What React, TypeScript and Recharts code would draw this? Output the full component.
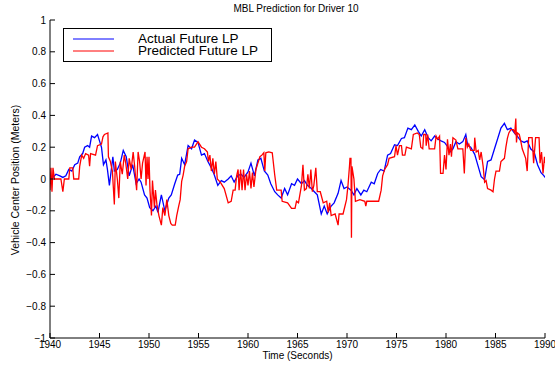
import React from 'react';
import { LineChart, Line, XAxis, YAxis, Legend } from 'recharts';

const actualTime = [
  1940.0, 1940.3, 1940.6, 1941.0, 1941.3, 1941.6, 1941.9, 1942.2, 1942.5, 1942.8,
  1943.0, 1943.3, 1943.5, 1943.8, 1944.0, 1944.2, 1944.5, 1944.8, 1945.0, 1945.2,
  1945.4, 1945.65, 1945.8, 1946.0, 1946.35, 1946.5, 1946.8, 1947.1, 1947.4, 1947.7,
  1948.0, 1948.35, 1948.7, 1949.0, 1949.2, 1949.55, 1949.8, 1950.07, 1950.4, 1950.7,
  1950.9, 1951.25, 1951.6, 1952.0, 1952.25, 1952.6, 1952.9, 1953.1, 1953.3, 1953.6,
  1953.95, 1954.3, 1954.6, 1954.95, 1955.3, 1955.6, 1955.95, 1956.3, 1956.6, 1956.95,
  1957.3, 1957.6, 1958.0, 1958.3, 1958.6, 1958.95, 1959.3, 1959.6, 1960.0, 1960.3,
  1960.65, 1961.0, 1961.3, 1961.65, 1962.0, 1962.3, 1962.7, 1963.0, 1963.35, 1963.7,
  1964.0, 1964.4, 1964.7, 1965.0, 1965.4, 1965.7, 1966.0, 1966.4, 1966.7, 1967.0,
  1967.4, 1967.7, 1968.0, 1968.4, 1968.7, 1969.1, 1969.4, 1969.7, 1970.0, 1970.4,
  1970.7, 1971.0, 1971.4, 1971.7, 1972.0, 1972.45, 1972.75, 1973.1, 1973.4, 1973.75,
  1974.1, 1974.4, 1974.8, 1975.1, 1975.5, 1975.8, 1976.15, 1976.5, 1976.85, 1977.2,
  1977.5, 1977.85, 1978.2, 1978.5, 1978.85, 1979.2, 1979.5, 1979.85, 1980.2, 1980.4,
  1980.7, 1981.0, 1981.35, 1981.7, 1982.0, 1982.2, 1982.5, 1982.9, 1983.2, 1983.55,
  1983.9, 1984.2, 1984.55, 1984.9, 1985.2, 1985.55, 1985.9, 1986.2, 1986.55, 1986.9,
  1987.2, 1987.55, 1987.9, 1988.2, 1988.55, 1988.9, 1989.25, 1989.6, 1989.9, 1990.0,
];
const actualLP = [
  0.02, 0.01, 0.03, 0.02, 0.01, 0.02, 0.06, 0.05, 0.09, 0.1,
  0.14, 0.16, 0.2, 0.21, 0.2, 0.27, 0.26, 0.28, 0.24, 0.2,
  0.09, 0.12, 0.06, -0.04, 0.14, 0.05, 0.06, 0.1, 0.18, 0.14,
  0.02, 0.09, -0.03, 0.0, -0.02, -0.1, -0.12, -0.18, -0.2, -0.17,
  -0.21, -0.1, -0.2, -0.12, -0.1, -0.03, 0.025, 0.03, 0.13, 0.09,
  0.21, 0.19, 0.245, 0.23, 0.15, 0.16, 0.11, 0.07, 0.025, -0.04,
  -0.01, -0.02, 0.0, 0.02, -0.02, 0.02, 0.03, 0.01, 0.045, 0.1,
  0.02, 0.12, 0.13, 0.05, 0.025, -0.03, -0.08, -0.1, -0.12, -0.06,
  -0.1, -0.03, -0.04, 0.0, -0.03, -0.01, -0.04, -0.06, -0.08, -0.1,
  -0.22, -0.17, -0.22, -0.17, -0.15, -0.09, -0.01, -0.06, -0.05, -0.07,
  -0.1, -0.06, -0.1, -0.07, -0.08, -0.02, -0.03, 0.035, 0.06, 0.05,
  0.15, 0.16, 0.215, 0.21, 0.255, 0.26, 0.32, 0.31, 0.34, 0.3,
  0.27, 0.31, 0.26, 0.24, 0.27, 0.25, 0.24, 0.23, 0.2, 0.17,
  0.19, 0.235, 0.22, 0.235, 0.28, 0.21, 0.2, 0.155, 0.09, 0.015,
  -0.005, 0.11, 0.12, 0.19, 0.25, 0.32, 0.35, 0.31, 0.32, 0.29,
  0.27, 0.24, 0.23, 0.24, 0.19, 0.17, 0.09, 0.04, 0.02, 0.01,
];

const predictedTime = [
  1940.0, 1940.1, 1940.2, 1940.3, 1940.45, 1940.8, 1941.1, 1941.3, 1941.45, 1941.9,
  1942.0, 1942.3, 1942.4, 1942.9, 1943.0, 1943.2, 1943.4, 1943.6, 1943.9, 1944.0,
  1944.1, 1944.6, 1944.8, 1945.2, 1945.35, 1945.5, 1945.85, 1945.9, 1946.1, 1946.3,
  1946.5, 1946.6, 1946.8, 1946.95, 1947.1, 1947.3, 1947.5, 1947.65, 1947.85, 1948.0,
  1948.2, 1948.4, 1948.55, 1948.75, 1948.9, 1949.05, 1949.2, 1949.35, 1949.6, 1949.7,
  1949.8, 1949.9, 1950.0, 1950.1, 1950.25, 1950.35, 1950.55, 1950.65, 1950.8, 1951.0,
  1951.25, 1951.4, 1951.6, 1951.8, 1952.0, 1952.2, 1952.35, 1952.65, 1952.8, 1953.0,
  1953.15, 1953.3, 1953.45, 1953.6, 1953.8, 1953.95, 1954.3, 1954.6, 1954.95, 1955.3,
  1955.6, 1955.9, 1956.0, 1956.15, 1956.3, 1956.45, 1956.6, 1956.75, 1956.9, 1957.2,
  1957.6, 1958.0, 1958.3, 1958.5, 1958.7, 1958.85, 1959.0, 1959.1, 1959.25, 1959.4,
  1959.55, 1959.7, 1959.85, 1960.0, 1960.15, 1960.3, 1960.45, 1960.6, 1960.8, 1961.0,
  1961.2, 1961.4, 1961.6, 1961.7, 1961.8, 1962.1, 1962.45, 1962.7, 1962.9, 1963.35,
  1963.45, 1964.0, 1964.4, 1964.75, 1964.9, 1965.1, 1965.4, 1965.55, 1965.7, 1965.9,
  1966.05, 1966.2, 1966.35, 1966.5, 1966.65, 1966.85, 1967.0, 1967.3, 1967.6, 1967.95,
  1968.1, 1968.25, 1968.4, 1968.8, 1969.1, 1969.2, 1969.6, 1969.95, 1970.1, 1970.25,
  1970.3, 1970.4, 1970.45, 1970.5, 1970.7, 1970.85, 1971.3, 1971.8, 1971.9, 1972.0,
  1973.2, 1973.45, 1973.6, 1973.8, 1974.1, 1974.25, 1974.8, 1974.95, 1975.1, 1975.3,
  1975.5, 1975.6, 1975.85, 1976.0, 1976.5, 1976.7, 1977.1, 1977.3, 1977.45, 1977.65,
  1977.75, 1977.95, 1978.0, 1978.15, 1978.3, 1978.85, 1979.0, 1979.15, 1979.35, 1979.45,
  1979.7, 1979.85, 1980.0, 1980.15, 1980.3, 1980.45, 1980.55, 1980.7, 1981.0, 1981.2,
  1981.7, 1981.85, 1982.0, 1982.15, 1982.3, 1982.5, 1982.85, 1982.9, 1983.05, 1983.25,
  1983.4, 1983.55, 1983.75, 1983.9, 1984.05, 1984.2, 1984.55, 1984.75, 1984.9, 1985.05,
  1985.4, 1985.55, 1985.9, 1986.05, 1986.2, 1986.35, 1986.55, 1986.8, 1986.95, 1987.05,
  1987.12, 1987.2, 1987.4, 1987.55, 1987.7, 1988.05, 1988.2, 1988.35, 1988.7, 1988.85,
  1989.05, 1989.4, 1989.5, 1989.65, 1989.8, 1989.95, 1990.0,
];
const predictedLP = [
  -0.07, 0.07, -0.08, 0.07, 0.0, 0.0, 0.0, -0.08, 0.0, 0.0,
  0.07, 0.07, 0.0, 0.0, 0.08, 0.15, 0.13, 0.16, 0.15, 0.08,
  0.16, 0.15, 0.21, 0.22, 0.265, 0.28, 0.29, 0.14, 0.11, 0.05,
  -0.16, 0.11, 0.0, -0.12, 0.11, 0.03, 0.15, 0.1, 0.0, 0.13,
  0.06, 0.17, 0.08, -0.07, 0.17, 0.11, 0.0, 0.1, 0.17, -0.04,
  0.14, 0.0, 0.14, -0.07, -0.23, -0.01, -0.18, -0.07, -0.16, -0.23,
  -0.29, -0.18, -0.23, -0.13, -0.23, -0.28, -0.29, -0.29, -0.23, -0.17,
  -0.13, -0.015, 0.025, 0.08, 0.11, 0.19, 0.2, 0.2, 0.235, 0.2,
  0.19, 0.17, 0.11, 0.15, 0.05, 0.13, 0.03, 0.11, 0.0, -0.02,
  -0.06, -0.15, -0.14, -0.07, -0.07, 0.02, 0.06, -0.07, 0.06, -0.07,
  0.06, -0.07, 0.03, -0.04, 0.05, -0.06, 0.04, -0.05, 0.06, 0.1,
  0.14, 0.15, 0.165, 0.05, 0.165, 0.17, 0.165, 0.025, -0.07, -0.07,
  -0.14, -0.15, -0.185, -0.185, -0.14, -0.15, -0.04, 0.09, -0.07, -0.06,
  0.03, -0.06, 0.06, -0.08, -0.04, 0.07, -0.08, -0.08, -0.15, -0.14,
  -0.21, -0.15, -0.23, -0.22, -0.29, -0.22, -0.22, -0.13, -0.04, 0.08,
  0.13, 0.13, -0.37, 0.08, 0.0, -0.14, -0.13, -0.14, -0.17, -0.14,
  -0.14, -0.07, 0.02, 0.06, 0.09, 0.13, 0.14, 0.21, 0.15, 0.21,
  0.21, 0.15, 0.15, 0.2, 0.19, 0.28, 0.29, 0.28, 0.2, 0.19,
  0.28, 0.28, 0.21, 0.28, 0.19, 0.19, 0.27, 0.25, 0.27, 0.035,
  0.035, 0.15, 0.06, 0.25, 0.15, 0.22, 0.14, 0.26, 0.245, 0.19,
  0.19, 0.035, 0.26, 0.2, 0.22, 0.18, 0.18, 0.26, 0.17, 0.18,
  0.12, 0.17, 0.08, -0.02, -0.01, -0.06, -0.07, -0.08, 0.0, 0.05,
  0.05, 0.11, 0.13, 0.2, 0.255, 0.29, 0.31, 0.31, 0.29, 0.38,
  0.23, 0.29, 0.28, 0.24, 0.19, 0.13, 0.05, 0.26, 0.26, 0.1,
  0.26, 0.26, 0.1, 0.17, 0.035, 0.14, 0.1,
];

const seriesNames = ['Actual Future LP', 'Predicted Future LP'];
const seriesColors = ['#0000ff', '#ff0000'];

const xTicks = [1940, 1945, 1950, 1955, 1960, 1965, 1970, 1975, 1980, 1985, 1990];
const yTicks = [-1, -0.8, -0.6, -0.4, -0.2, 0, 0.2, 0.4, 0.6, 0.8, 1];

const actualData = actualTime.map((t, i) => ({ t, v: actualLP[i] }));
const predictedData = predictedTime.map((t, i) => ({ t, v: predictedLP[i] }));

const FONT = '"Liberation Sans", Arial, Helvetica, sans-serif';
const fmtY = (v: number) => {
  const s = String(Number(v.toFixed(1)));
  return s.replace('-', '\u2212');
};

const LegendBox = () => {
  return (
    <div
      style={{
        position: 'absolute',
        left: 63,
        top: 28,
        border: '1px solid #000',
        background: '#fff',
        width: 209,
        height: 34,
        boxSizing: 'border-box',
        paddingTop: 4,
        fontFamily: FONT,
      }}
    >
      {seriesNames.map((name, i) => (
        <div key={name} style={{ display: 'flex', alignItems: 'center', height: 12 }}>
          <svg width={74} height={12} style={{ display: 'block' }}>
            <line x1={9} x2={50} y1={6} y2={6} stroke={seriesColors[i]} strokeWidth={1} />
          </svg>
          <span style={{ fontSize: 13.5, lineHeight: '12px', color: '#000', whiteSpace: 'nowrap' }}>{name}</span>
        </div>
      ))}
    </div>
  );
};

export default function App() {
  return (
    <div style={{ position: 'absolute', left: 0, top: 0, width: 555, height: 365, background: '#fff', fontFamily: FONT }}>
      <LineChart
        width={555}
        height={365}
        margin={{ top: 20, right: 10, bottom: 0, left: 0 }}
        style={{ position: 'absolute', left: 0, top: 0 }}
      >
        <XAxis
          dataKey="t"
          type="number"
          domain={[1940, 1990]}
          ticks={xTicks}
          allowDataOverflow
          height={27}
          tickSize={-5}
          tickMargin={8}
          axisLine={{ stroke: '#000', strokeWidth: 1 }}
          tickLine={{ stroke: '#000' }}
          tick={{ fill: '#000', fontSize: 10, fontFamily: FONT }}
          interval={0}
        />
        <XAxis
          xAxisId="top"
          orientation="top"
          dataKey="t"
          type="number"
          domain={[1940, 1990]}
          ticks={xTicks}
          allowDataOverflow
          height={0}
          tickSize={-5}
          axisLine={{ stroke: '#000', strokeWidth: 1 }}
          tickLine={{ stroke: '#000' }}
          tick={{ fill: 'none', fontSize: 1 }}
          interval={0}
        />
        <YAxis
          type="number"
          domain={[-1, 1]}
          ticks={yTicks}
          allowDataOverflow
          width={50}
          tickSize={-5}
          tickMargin={9}
          tickFormatter={fmtY}
          axisLine={{ stroke: '#000', strokeWidth: 1 }}
          tickLine={{ stroke: '#000' }}
          tick={{ fill: '#000', fontSize: 10, fontFamily: FONT }}
          interval={0}
        />
        <YAxis
          yAxisId="right"
          orientation="right"
          type="number"
          domain={[-1, 1]}
          ticks={yTicks}
          allowDataOverflow
          width={0}
          tickSize={-5}
          axisLine={{ stroke: '#000', strokeWidth: 1 }}
          tickLine={{ stroke: '#000' }}
          tick={{ fill: 'none', fontSize: 1 }}
          interval={0}
        />
        <Legend
          layout="horizontal"
          verticalAlign="middle"
          align="center"
          content={<LegendBox />}
          wrapperStyle={{ position: 'absolute', left: 0, top: 0, width: 0, height: 0 }}
        />
        <Line
          data={actualData}
          dataKey="v"
          name={seriesNames[0]}
          type="linear"
          stroke={seriesColors[0]}
          strokeWidth={1.3}
          dot={false}
          activeDot={false}
          isAnimationActive={false}
        />
        <Line
          data={predictedData}
          dataKey="v"
          name={seriesNames[1]}
          type="linear"
          stroke={seriesColors[1]}
          strokeWidth={1.3}
          dot={false}
          activeDot={false}
          isAnimationActive={false}
        />
      </LineChart>
      <div
        style={{
          position: 'absolute',
          left: 0,
          width: 592,
          top: 3,
          textAlign: 'center',
          fontSize: 10,
          lineHeight: '12px',
          color: '#000',
        }}
      >
        MBL Prediction for Driver 10
      </div>
      <div
        style={{
          position: 'absolute',
          left: 15,
          top: 180,
          transform: 'translate(-50%, -50%) rotate(-90deg)',
          whiteSpace: 'nowrap',
          fontSize: 10.5,
          lineHeight: '12px',
          color: '#000',
        }}
      >
        Vehicle Center Position (Meters)
      </div>
      <div
        style={{
          position: 'absolute',
          left: 0,
          width: 595,
          top: 350,
          textAlign: 'center',
          fontSize: 10,
          lineHeight: '12px',
          color: '#000',
        }}
      >
        Time (Seconds)
      </div>
    </div>
  );
}
